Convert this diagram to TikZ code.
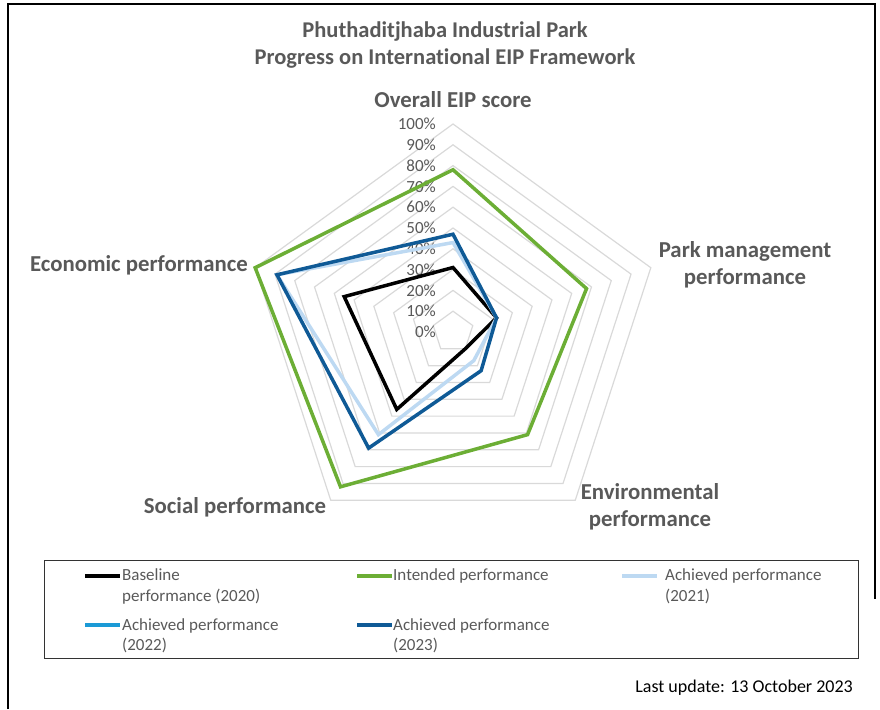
\documentclass[tikz,border=0pt]{standalone}
\usepackage{fontspec}
\setmainfont{Carlito}[Ligatures=NoCommon]
\definecolor{txtgray}{HTML}{595959}
\definecolor{gridgray}{HTML}{D9D9D9}
\definecolor{intgreen}{HTML}{6CAE35}
\definecolor{lightblue}{HTML}{BDD9F2}
\definecolor{midblue}{HTML}{1B9AD6}
\definecolor{darkblue}{HTML}{0F5A96}
\tikzset{
	gridline/.style={gridgray, line width=1.2pt},
	series/.style={line width=3.5pt, line join=miter},
	axislabel/.style={font=\fontsize{22.8}{27}\selectfont\bfseries, text=txtgray, align=center},
	pctlabel/.style={font=\fontsize{17}{20}\selectfont, text=txtgray, anchor=east, inner sep=0pt},
	legendtext/.style={font=\fontsize{17}{21}\selectfont, text=txtgray, align=left, anchor=base west, inner sep=0pt},
	legendline/.style={line width=4pt}
}
\begin{document}
\begin{tikzpicture}[x=1pt, y=1pt]
	\useasboundingbox (0, 0) rectangle (880, 709);
	\draw[line width=2pt] (8, 0) -- (8, 705) -- (875, 705) -- (875, 110);
	\node[axislabel, font=\fontsize{22.5}{27}\selectfont\bfseries] (title) at (445, 664) {Phuthaditjhaba Industrial Park\\Progress on International EIP Framework};
	% radar grid, centre of the chart
	\begin{scope}[shift={(453, 377)}]
		\foreach \k in {1,...,10}
			\draw[gridline] (90:{\k*20.8}) -- (18:{\k*20.8}) -- (-54:{\k*20.8}) -- (-126:{\k*20.8}) -- (162:{\k*20.8}) -- cycle;
		\foreach \k in {0,...,10}
			\node[pctlabel] (p\k) at (-17, {\k*20.8}) {\pgfmathparse{int(\k*10)}\pgfmathresult\%};
		% series
		\draw[series, black] (90:{31*2.08}) -- (18:{22*2.08}) -- (-54:{10*2.08}) -- (-126:{46*2.08}) -- (162:{55*2.08}) -- cycle;
		\draw[series, intgreen] (90:{78*2.08}) -- (18:{67.5*2.08}) -- (-54:{61*2.08}) -- (-126:{92*2.08}) -- (162:{100*2.08}) -- cycle;
		\draw[series, lightblue] (90:{43*2.08}) -- (18:{22*2.08}) -- (-54:{17*2.08}) -- (-126:{61*2.08}) -- (162:{89*2.08}) -- cycle;
		\draw[series, darkblue] (90:{47*2.08}) -- (18:{22*2.08}) -- (-54:{23*2.08}) -- (-126:{69*2.08}) -- (162:{89*2.08}) -- cycle;
	\end{scope}
	\node[axislabel] (overall) at (453, 609) {Overall EIP score};
	\node[axislabel] (park) at (745, 444) {Park management\\performance};
	\node[axislabel] (environ) at (650, 202) {Environmental\\performance};
	\node[axislabel] (social) at (235, 202) {Social performance};
	\node[axislabel] (econ) at (139, 444) {Economic performance};
	% legend
	\draw[line width=1pt, black!80] (44, 50) rectangle (858, 148);
	\draw[legendline, black] (85, 133) -- (120, 133);
	\draw[legendline, intgreen] (357, 133) -- (392, 133);
	\draw[legendline, lightblue] (622, 133) -- (657, 133);
	\draw[legendline, midblue] (85, 84) -- (120, 84);
	\draw[legendline, darkblue] (357, 84) -- (392, 84);
	\node[legendtext] (lbase) at (122, 107) {Baseline\\performance (2020)};
	\node[legendtext] (lint) at (393, 128) {Intended performance};
	\node[legendtext] (l21) at (665, 107) {Achieved performance\\(2021)};
	\node[legendtext] (l22) at (122, 58) {Achieved performance\\(2022)};
	\node[legendtext] (l23) at (393, 58) {Achieved performance\\(2023)};
	\node[font=\fontsize{18}{22}\selectfont, anchor=base east, inner sep=0pt] (update) at (853, 17) {Last update: 13 October 2023};
\end{tikzpicture}
\end{document}
